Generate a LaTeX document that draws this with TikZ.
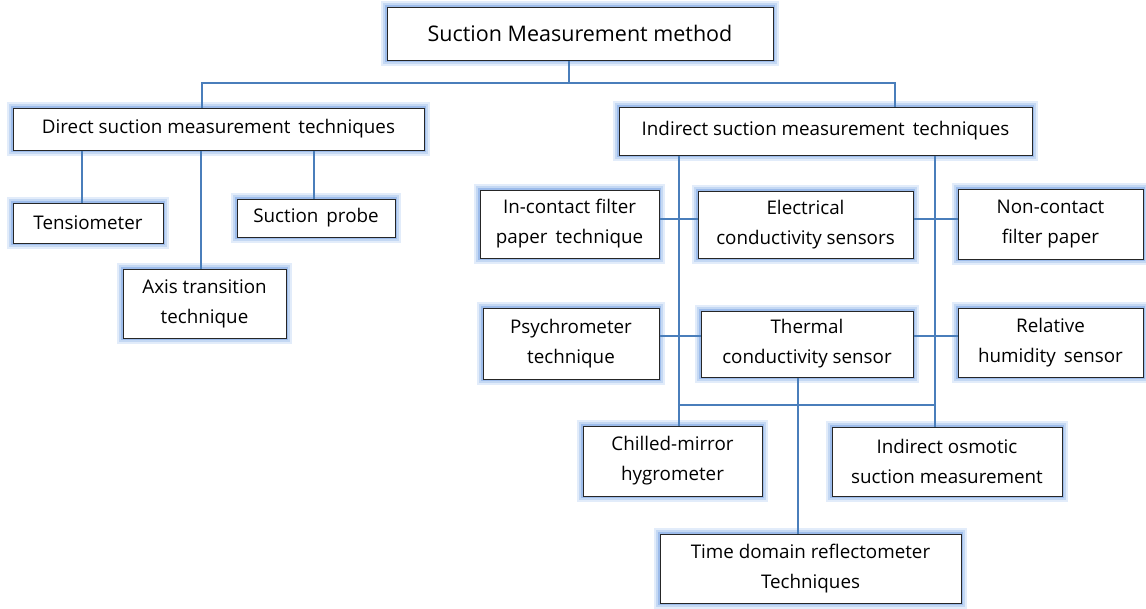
\documentclass[tikz,border=0pt]{standalone}
\usepackage{fontspec}
\setmainfont{Open Sans}
\begin{document}
\begin{tikzpicture}[x=1pt,y=-1pt,
  box/.style={draw=black!85, line width=1pt, fill=white, rectangle, inner sep=0pt, align=center,
    font={\fontsize{18.8}{30}\selectfont},
    preaction={draw={rgb,255:red,160;green,192;blue,238}, line width=12pt, opacity=0.3},
    preaction={draw={rgb,255:red,150;green,185;blue,235}, line width=8pt, opacity=0.4},
    preaction={draw={rgb,255:red,125;green,165;blue,228}, line width=4.5pt, opacity=0.55}},
  conn/.style={draw={rgb,255:red,74;green,126;blue,187}, line width=1.1pt}]
\useasboundingbox (0,0) rectangle (1146,608);
% boxes
\node[box, minimum width=386pt, minimum height=53pt, font={\fontsize{21.5}{26}\selectfont}] (top) at (580,33.5) {Suction Measurement method};
\node[box, minimum width=411pt, minimum height=42pt] (direct) at (218.5,129) {Direct suction measurement\, techniques};
\node[box, minimum width=413pt, minimum height=48pt] (indirect) at (825.5,131) {Indirect suction measurement\, techniques};
\node[box, minimum width=150pt, minimum height=40pt] (tens) at (88,223) {Tensiometer};
\node[box, minimum width=158pt, minimum height=38pt] (probe) at (316,218) {Suction\, probe};
\node[box, minimum width=163pt, minimum height=69pt] (axis) at (204.5,303.5) {Axis transition\\technique};
\node[box, minimum width=179pt, minimum height=68pt] (incontact) at (569.5,224) {In-contact filter\\paper\, technique};
\node[box, minimum width=215pt, minimum height=67pt] (elec) at (805.5,224.5) {Electrical\\conductivity sensors};
\node[box, minimum width=185pt, minimum height=70pt] (noncontact) at (1050.5,224) {Non-contact\\filter paper};
\node[box, minimum width=176pt, minimum height=71pt] (psych) at (571,343.5) {Psychrometer\\technique};
\node[box, minimum width=212pt, minimum height=66pt] (thermal) at (807,344) {Thermal\\conductivity sensor};
\node[box, minimum width=185pt, minimum height=69pt] (relative) at (1050.5,342.5) {Relative\\humidity\, sensor};
\node[box, minimum width=179pt, minimum height=70pt] (chilled) at (672.5,461) {Chilled-mirror\\hygrometer};
\node[box, minimum width=230pt, minimum height=69pt] (osmotic) at (947,461.5) {Indirect osmotic\\suction measurement};
\node[box, minimum width=301pt, minimum height=69pt] (tdr) at (810.5,568.5) {Time domain reflectometer\\Techniques};
% junction coordinates
\coordinate (tj) at (569,83);
\coordinate (hl) at (202,83);
\coordinate (hr) at (895,83);
\coordinate (dx1) at (82,0);
\coordinate (dx2) at (201,0);
\coordinate (dx3) at (314,0);
\coordinate (vl) at (679,405);
\coordinate (vr) at (935,405);
\coordinate (tx) at (798,0);
\coordinate (ry1) at (0,219);
\coordinate (ry2) at (0,336);
% connectors
\draw[conn] (tj |- top.south) -- (tj);
\draw[conn] (hl |- direct.north) -- (hl) -- (hr) -- (hr |- indirect.north);
\draw[conn] (dx1 |- direct.south) -- (dx1 |- tens.north);
\draw[conn] (dx2 |- direct.south) -- (dx2 |- axis.north);
\draw[conn] (dx3 |- direct.south) -- (dx3 |- probe.north);
\draw[conn] (vl |- indirect.south) -- (vl) -- (vr) -- (vr |- indirect.south);
\draw[conn] (vl) -- (vl |- chilled.north);
\draw[conn] (vr) -- (vr |- osmotic.north);
\draw[conn] (tx |- thermal.south) -- (tx |- tdr.north);
\draw[conn] (incontact.east |- ry1) -- (elec.west |- ry1);
\draw[conn] (elec.east |- ry1) -- (noncontact.west |- ry1);
\draw[conn] (psych.east |- ry2) -- (thermal.west |- ry2);
\draw[conn] (thermal.east |- ry2) -- (relative.west |- ry2);
\end{tikzpicture}
\end{document}
